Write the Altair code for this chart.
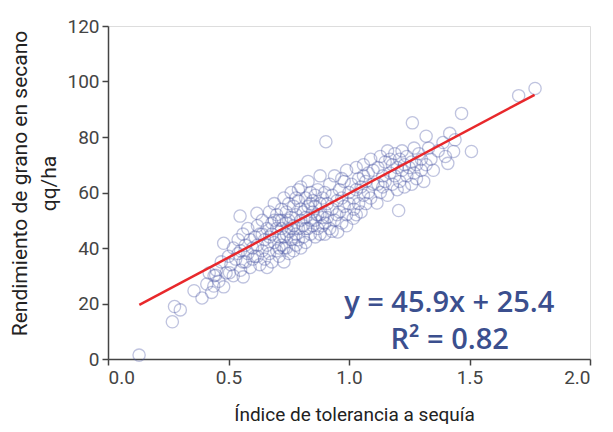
import altair as alt
import pandas as pd

# ---- data (x = drought tolerance index, y = yield qq/ha)
low_pts = [(0.129, 1.4), (0.267, 13.4), (0.30, 17.7), (0.276, 18.9), (0.357, 24.6)]
band_04 = [(0.39, 22), (0.41, 27), (0.43, 24), (0.439, 26.3), (0.44, 30), (0.447, 30.2),
           (0.45, 32), (0.46, 28), (0.47, 35), (0.48, 26), (0.48, 41.7), (0.49, 31),
           (0.50, 37), (0.504, 31.1), (0.42, 31)]
band_05 = [(0.51, 34), (0.52, 40), (0.52, 30), (0.53, 36), (0.54, 43), (0.55, 32),
           (0.55, 39), (0.56, 45), (0.561, 29.6), (0.57, 35), (0.57, 41), (0.58, 38),
           (0.58, 47), (0.59, 33), (0.59, 43), (0.60, 40), (0.60, 36), (0.548, 51.5),
           (0.54, 38), (0.56, 35)]
band_06 = [(0.618, 52.5), (0.61, 44), (0.61, 37), (0.62, 41), (0.62, 48), (0.63, 34),
           (0.63, 45), (0.64, 39), (0.64, 50), (0.65, 43), (0.65, 36), (0.66, 47),
           (0.66, 41), (0.67, 53), (0.67, 38), (0.68, 45), (0.68, 49), (0.68, 35),
           (0.69, 42), (0.69, 56), (0.70, 47), (0.70, 39), (0.70, 52), (0.62, 37),
           (0.64, 45), (0.66, 33), (0.67, 44), (0.69, 50)]
band_07 = [(0.71, 44), (0.71, 50), (0.71, 37), (0.72, 54), (0.72, 41), (0.72, 47),
           (0.73, 35), (0.73, 44), (0.73, 58), (0.74, 49), (0.74, 40), (0.74, 53),
           (0.75, 46), (0.75, 38), (0.75, 56), (0.76, 43), (0.76, 51), (0.76, 60),
           (0.77, 48), (0.77, 39), (0.77, 55), (0.78, 45), (0.78, 52), (0.78, 41),
           (0.79, 57), (0.79, 47), (0.79, 43), (0.80, 50), (0.80, 62), (0.80, 40),
           (0.72, 50), (0.74, 45), (0.76, 47), (0.78, 58), (0.80, 54), (0.73, 40),
           (0.75, 50), (0.77, 44), (0.79, 61), (0.71, 40)]
band_08 = [(0.81, 53), (0.81, 44), (0.81, 48), (0.82, 58), (0.82, 42), (0.82, 51),
           (0.83, 47), (0.83, 55), (0.83, 64), (0.84, 50), (0.84, 60), (0.84, 45),
           (0.85, 53), (0.85, 48), (0.85, 57), (0.86, 44), (0.86, 55), (0.86, 50),
           (0.87, 61), (0.87, 47), (0.87, 52), (0.88, 45), (0.88, 56), (0.88, 66),
           (0.89, 51), (0.89, 58), (0.89, 48), (0.90, 60), (0.90, 53), (0.90, 49),
           (0.82, 47), (0.84, 56), (0.86, 59), (0.88, 52), (0.90, 45), (0.904, 78.3)]
band_09 = [(0.91, 56), (0.91, 51), (0.92, 63), (0.92, 47), (0.93, 54), (0.93, 59),
           (0.94, 50), (0.94, 66), (0.95, 57), (0.953, 45.8), (0.96, 53), (0.96, 61),
           (0.97, 49), (0.97, 58), (0.98, 64), (0.98, 55), (0.99, 52), (0.99, 68),
           (1.00, 60), (1.00, 56), (0.93, 46), (0.95, 52), (0.97, 65), (0.99, 48)]
band_10 = [(1.018, 50.7), (1.01, 63), (1.02, 58), (1.02, 54), (1.03, 61), (1.03, 69),
           (1.04, 56), (1.04, 65), (1.05, 62), (1.05, 53), (1.06, 70), (1.06, 59),
           (1.07, 56), (1.07, 64), (1.08, 60), (1.08, 67), (1.09, 58), (1.09, 72),
           (1.10, 63), (1.10, 68), (1.03, 52), (1.06, 66)]
band_11 = [(1.116, 56.2), (1.12, 69), (1.12, 63), (1.13, 60), (1.13, 73), (1.14, 66),
           (1.14, 62), (1.15, 71), (1.15, 64), (1.16, 59), (1.16, 75), (1.17, 67),
           (1.17, 72), (1.18, 63), (1.18, 70), (1.19, 66), (1.19, 74), (1.20, 61),
           (1.206, 53.5), (1.20, 69)]
band_12 = [(1.21, 72), (1.21, 64), (1.22, 68), (1.22, 75), (1.23, 62), (1.23, 70),
           (1.24, 73), (1.24, 66), (1.25, 69), (1.263, 85.1), (1.26, 63), (1.26, 71),
           (1.27, 76), (1.27, 67), (1.28, 70), (1.28, 65), (1.29, 74), (1.30, 68),
           (1.30, 72), (1.32, 80.3)]
band_13 = [(1.31, 64), (1.32, 70), (1.33, 76), (1.34, 72), (1.35, 68), (1.37, 75),
           (1.39, 78), (1.40, 73), (1.418, 81.3), (1.41, 70.5), (1.434, 74.8),
           (1.467, 88.5), (1.508, 74.8), (1.44, 79)]
far_pts = [(1.704, 94.9), (1.772, 97.5)]

# regression line as drawn
line_x = [0.13, 1.77]
line_y = [19.5, 95.2]

# equation annotation
eq_text = ["y = 45.9x + 25.4", "R² = 0.82"]
eq_x = [1.416, 1.418]
eq_y = [20.2, 6.8]

x_ticks = [0, 0.5, 1.0, 1.5, 2.0]
y_ticks = [0, 20, 40, 60, 80, 100, 120]

all_pts = (low_pts + band_04 + band_05 + band_06 + band_07 + band_08 + band_09
           + band_10 + band_11 + band_12 + band_13 + far_pts)
pts = pd.DataFrame(all_pts, columns=["x", "y"])
line_df = pd.DataFrame({"x": line_x, "y": line_y})
eq_df = pd.DataFrame({"x": eq_x, "y": eq_y, "t": eq_text})

AX_FONT = "Roboto"

xscale = alt.Scale(domain=[0, 2], nice=False, zero=False)
yscale = alt.Scale(domain=[0, 120], nice=False)

xaxis = alt.Axis(values=x_ticks, format=".1f", grid=False,
                 title="Índice de tolerancia a sequía",
                 titleFont=AX_FONT, titleFontSize=19, titleFontWeight="normal",
                 titleColor="#222222", titleX=246, titleY=61,
                 titleBaseline="alphabetic", titleAlign="center",
                 labelFont=AX_FONT, labelFontSize=19, labelColor="#444444",
                 labelPadding=3, tickSize=6, tickColor="#444444", tickWidth=1.5,
                 domainColor="#444444", domainWidth=1.5)
yaxis = alt.Axis(values=y_ticks, grid=False,
                 title=["Rendimiento de grano en secano", "qq/ha"],
                 titleFont=AX_FONT, titleFontSize=21, titleFontWeight="normal",
                 titleColor="#222222", titleAngle=-90, titleBaseline="top",
                 titleAlign="center", titleX=-99, titleY=157, titleLineHeight=29,
                 labelFont=AX_FONT, labelFontSize=19, labelColor="#444444",
                 labelPadding=3, tickSize=6, tickColor="#444444", tickWidth=1.5,
                 domainColor="#444444", domainWidth=1.5)

points = alt.Chart(pts).mark_point(
    shape="circle", filled=False, size=150, stroke="#4a55a5",
    strokeOpacity=0.5, strokeWidth=1.3
).encode(
    x=alt.X("x:Q", scale=xscale, axis=xaxis),
    y=alt.Y("y:Q", scale=yscale, axis=yaxis),
)

line = alt.Chart(line_df).mark_line(color="#e8282b", strokeWidth=2.5).encode(
    x=alt.X("x:Q", scale=xscale), y=alt.Y("y:Q", scale=yscale)
)

eq = alt.Chart(eq_df).mark_text(
    font="Open Sans", fontSize=29, fontWeight=600, color="#3b4f8e",
    align="center", baseline="middle"
).encode(
    x=alt.X("x:Q", scale=xscale), y=alt.Y("y:Q", scale=yscale), text="t:N"
)

chart = alt.layer(points, line, eq).properties(
    width=482, height=333,
    autosize=alt.AutoSizeParams(type="none"),
    padding={"left": 100, "top": 18, "right": 15, "bottom": 65},
).configure_view(stroke=None).configure(background="white")

chart.save("out.html", embed_options={"renderer": "svg", "actions": False})
